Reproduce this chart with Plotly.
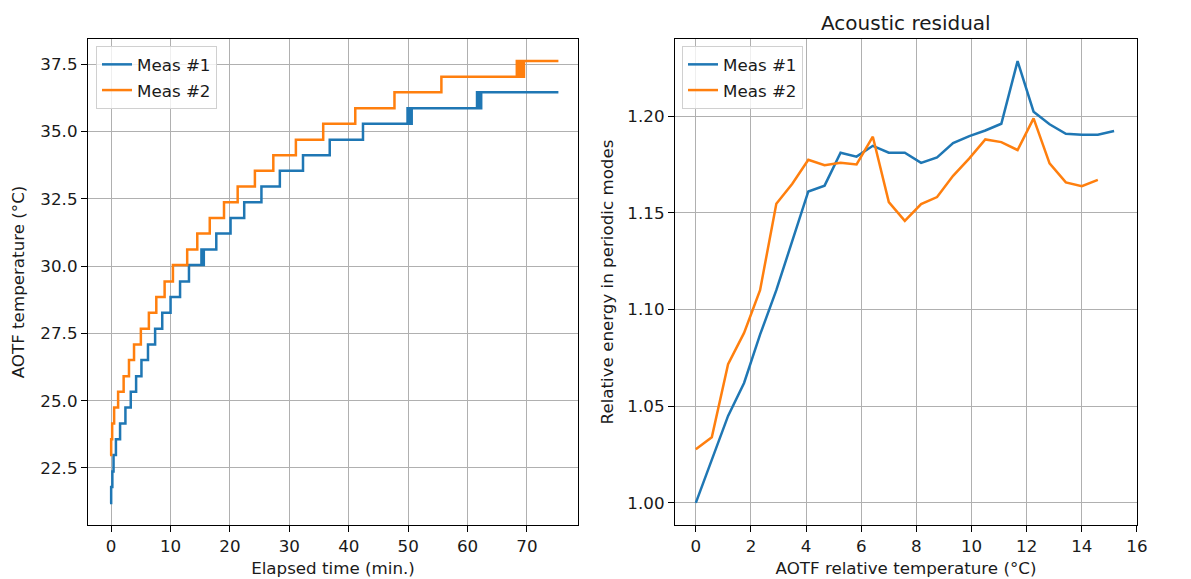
import plotly.graph_objects as go

# ---- Left panel data: AOTF temperature vs elapsed time (step-like) ----
meas1_time = [-0.2, 0.0, 0.2, 0.4, 0.8, 1.5, 2.4, 3.3, 4.2, 5.1, 6.2, 7.4, 8.6, 10.0, 11.6, 13.1,
              15.2, 15.4, 15.6, 17.7, 20.1, 22.4, 25.3, 28.4, 32.3, 36.8, 42.4,
              49.9, 50.3, 50.6, 61.6, 62.0, 62.3, 75.3]
meas1_temp = [21.2, 21.79, 22.37, 22.98, 23.57, 24.15, 24.75, 25.33, 25.91, 26.51, 27.09, 27.67, 28.27, 28.85, 29.43, 30.04,
              30.62, 30.04, 30.62, 31.21, 31.79, 32.37, 32.96, 33.54, 34.12, 34.70, 35.29,
              35.87, 35.29, 35.87, 36.46, 35.87, 36.46, 36.46]

meas2_time = [-0.2, 0.0, 0.17, 0.5, 1.17, 2.1, 3.0, 3.85, 5.0, 6.35, 7.6, 9.0, 10.4, 12.8, 14.5, 16.6,
              19.0, 21.3, 24.2, 27.3, 31.1, 35.7, 41.1, 47.7, 55.6,
              68.3, 68.5, 68.7, 68.9, 69.1, 69.3, 69.5, 75.3]
meas2_temp = [22.98, 23.57, 24.15, 24.75, 25.33, 25.91, 26.51, 27.09, 27.67, 28.27, 28.85, 29.43, 30.04, 30.62, 31.21, 31.79,
              32.37, 32.96, 33.54, 34.12, 34.70, 35.29, 35.87, 36.46, 37.04,
              37.62, 37.04, 37.62, 37.04, 37.62, 37.04, 37.62, 37.62]

# ---- Right panel data: acoustic residual ----
meas1_rel_temp = [0.0, 0.58, 1.17, 1.75, 2.33, 2.92, 3.5, 4.08, 4.67, 5.25, 5.83, 6.42, 7.0, 7.58,
                  8.17, 8.75, 9.33, 9.92, 10.5, 11.08, 11.67, 12.25, 12.83, 13.42, 14.0, 14.58, 15.17]
meas1_energy = [1.000, 1.022, 1.045, 1.062, 1.087, 1.110, 1.135, 1.161, 1.164, 1.181, 1.179, 1.1846, 1.181, 1.181,
                1.1758, 1.1786, 1.186, 1.1896, 1.1925, 1.196, 1.2284, 1.2022, 1.1957, 1.1908, 1.1903, 1.1903, 1.1922]

meas2_rel_temp = [0.0, 0.58, 1.17, 1.75, 2.33, 2.92, 3.5, 4.08, 4.67, 5.25, 5.83, 6.42, 7.0, 7.58,
                  8.17, 8.75, 9.33, 9.92, 10.5, 11.08, 11.67, 12.25, 12.83, 13.42, 14.0, 14.58]
meas2_energy = [1.0278, 1.034, 1.0717, 1.0879, 1.110, 1.1546, 1.165, 1.1774, 1.1746, 1.1758, 1.175, 1.1893, 1.1555, 1.1458,
                1.1545, 1.1581, 1.1691, 1.1781, 1.1879, 1.1865, 1.1824, 1.1988, 1.1755, 1.1657, 1.1637, 1.167]

BLUE = "#1f77b4"
ORANGE = "#ff7f0e"
FONT = "DejaVu Sans"
FS = 16.7
TXT = "#1a1a1a"
LW = 2.5

fig = go.Figure()
fig.add_trace(go.Scatter(x=meas1_time, y=meas1_temp, mode="lines", line=dict(color=BLUE, width=LW, shape="hv"),
                         name="Meas #1", xaxis="x", yaxis="y", legend="legend", legendgroup="a1"))
fig.add_trace(go.Scatter(x=meas2_time, y=meas2_temp, mode="lines", line=dict(color=ORANGE, width=LW, shape="hv"),
                         name="Meas #2", xaxis="x", yaxis="y", legend="legend", legendgroup="a2"))
fig.add_trace(go.Scatter(x=meas1_rel_temp, y=meas1_energy, mode="lines", line=dict(color=BLUE, width=LW),
                         name="Meas #1", xaxis="x2", yaxis="y2", legend="legend2", legendgroup="b1"))
fig.add_trace(go.Scatter(x=meas2_rel_temp, y=meas2_energy, mode="lines", line=dict(color=ORANGE, width=LW),
                         name="Meas #2", xaxis="x2", yaxis="y2", legend="legend2", legendgroup="b2"))

# page has an 8px body margin; compensate so the plot areas land where the reference has them
OFF = 8
W, H = 1191 - OFF, 579 - OFF
ml, mr, mt, mb = 88 - OFF, 54, 39 - OFF, 54
pw = W - ml - mr
ph = H - mt - mb
left_dom = [0, (578 - 88) / pw]
right_dom = [(675 - 88) / pw, 1]

axis_common = dict(showline=True, linecolor="black", linewidth=1.3, mirror=True,
                   ticks="outside", ticklen=6, tickcolor="black", tickwidth=1.3,
                   showgrid=True, gridcolor="#b0b0b0", gridwidth=1.3, zeroline=False, automargin=False,
                   tickfont=dict(family=FONT, size=FS, color=TXT))

legend_common = dict(bgcolor="rgba(255,255,255,0.8)", bordercolor="#d0d0d0", borderwidth=1,
                     font=dict(family=FONT, size=FS, color=TXT),
                     xanchor="left", yanchor="top", tracegroupgap=1, itemwidth=30)

fig.update_layout(
    width=W, height=H,
    margin=dict(l=ml, r=mr, t=mt, b=mb, autoexpand=False),
    paper_bgcolor="white", plot_bgcolor="white",
    font=dict(family=FONT, size=FS, color=TXT),
    xaxis=dict(domain=left_dom, range=[-3.9, 78.6], tickvals=[0, 10, 20, 30, 40, 50, 60, 70],
               title=dict(text="Elapsed time (min.)", standoff=7, font=dict(family=FONT, size=FS, color=TXT)),
               anchor="y", **axis_common),
    yaxis=dict(domain=[0, 1], range=[20.38, 38.44], tickvals=[22.5, 25.0, 27.5, 30.0, 32.5, 35.0, 37.5],
               tickformat=".1f",
               title=dict(text="AOTF temperature (°C)", standoff=13, font=dict(family=FONT, size=FS, color=TXT)),
               anchor="x", **axis_common),
    xaxis2=dict(domain=right_dom, range=[-0.755, 16.001], tickvals=[0, 2, 4, 6, 8, 10, 12, 14, 16],
                title=dict(text="AOTF relative temperature (°C)", standoff=7, font=dict(family=FONT, size=FS, color=TXT)),
                anchor="y2", **axis_common),
    yaxis2=dict(domain=[0, 1], range=[0.9886, 1.2398], tickvals=[1.00, 1.05, 1.10, 1.15, 1.20],
                tickformat=".2f",
                title=dict(text="Relative energy in periodic modes", standoff=9, font=dict(family=FONT, size=FS, color=TXT)),
                anchor="x2", **axis_common),
    legend=dict(x=(96 - 88) / pw, y=1 - (46 - 39) / ph, **legend_common),
    legend2=dict(x=(682 - 88) / pw, y=1 - (46 - 39) / ph, **legend_common),
    annotations=[dict(text="Acoustic residual", xref="paper", yref="paper",
                      x=(right_dom[0] + right_dom[1]) / 2, y=1, yshift=2, xanchor="center", yanchor="bottom",
                      showarrow=False, font=dict(family=FONT, size=20, color=TXT))],
)

fig.write_html("out.html")
